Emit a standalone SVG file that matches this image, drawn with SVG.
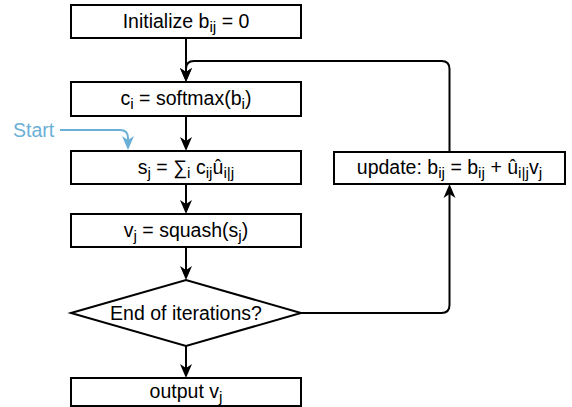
<svg xmlns="http://www.w3.org/2000/svg" width="572" height="407" viewBox="0 0 572 407">
  <defs>
    <style>
      .box { fill: #ffffff; stroke: #000000; stroke-width: 2; }
      .edge { fill: none; stroke: #000000; stroke-width: 2; }
      .start-edge { fill: none; stroke: #6aafd6; stroke-width: 2; }
      .label { font-family: "Liberation Sans", Arial, Helvetica, sans-serif; font-size: 19.5px; fill: #000000; text-anchor: middle; }
      .sub { font-size: 15.5px; }
      .start { font-family: "Liberation Sans", Arial, Helvetica, sans-serif; font-size: 19.5px; fill: #6aafd6; }
    </style>
    <marker id="arrow" viewBox="-15 -7 16 14" refX="-10" refY="0" markerWidth="16" markerHeight="14" markerUnits="userSpaceOnUse" orient="auto">
      <path d="M0,0 L-14,-6 L-10,0 L-14,6 Z" fill="#000000"/>
    </marker>
    <marker id="arrow-blue" viewBox="-15 -7 16 14" refX="-10" refY="0" markerWidth="16" markerHeight="14" markerUnits="userSpaceOnUse" orient="auto">
      <path d="M0,0 L-14,-6 L-10,0 L-14,6 Z" fill="#6aafd6"/>
    </marker>
  </defs>

  <g id="connectors">
    <path class="edge" d="M186,38 V72" marker-end="url(#arrow)"/>
    <path class="edge" d="M449.5,152 V69 Q449.5,61 441.5,61 H194 Q186,61 186,69 V72" marker-end="url(#arrow)"/>
    <path class="edge" d="M186,116 V141" marker-end="url(#arrow)"/>
    <path class="edge" d="M186,184 V204" marker-end="url(#arrow)"/>
    <path class="edge" d="M186,247 V270" marker-end="url(#arrow)"/>
    <path class="edge" d="M186,346 V368" marker-end="url(#arrow)"/>
    <path class="edge" d="M301,313 H441.5 Q449.5,313 449.5,305 V194" marker-end="url(#arrow)"/>
    <path class="start-edge" d="M60,130 H120 Q128,130 128,138 V140" marker-end="url(#arrow-blue)"/>
  </g>

  <g id="init">
    <rect class="box" x="71" y="5" width="230" height="33"/>
    <text class="label" x="186" y="28">Initialize b<tspan class="sub" dy="4">ij</tspan><tspan dy="-4"> = 0</tspan></text>
  </g>

  <g id="softmax">
    <rect class="box" x="71" y="82" width="230" height="34"/>
    <text class="label" x="186" y="105">c<tspan class="sub" dy="4">i</tspan><tspan dy="-4"> = softmax(b</tspan><tspan class="sub" dy="4">i</tspan><tspan dy="-4">)</tspan></text>
  </g>

  <g id="weighted-sum">
    <rect class="box" x="71" y="151" width="230" height="33"/>
    <text class="label" x="186" y="174">s<tspan class="sub" dy="4">j</tspan><tspan dy="-4"> = ∑</tspan><tspan class="sub" dy="4">i</tspan><tspan dy="-4"> c</tspan><tspan class="sub" dy="4">ij</tspan><tspan dy="-4">û</tspan><tspan class="sub" dy="4">i|j</tspan></text>
  </g>

  <g id="squash">
    <rect class="box" x="71" y="214" width="230" height="33"/>
    <text class="label" x="186" y="237">v<tspan class="sub" dy="4">j</tspan><tspan dy="-4"> = squash(s</tspan><tspan class="sub" dy="4">j</tspan><tspan dy="-4">)</tspan></text>
  </g>

  <g id="decision">
    <polygon class="box" points="71,313 186,280 301,313 186,346"/>
    <text class="label" x="186" y="320">End of iterations?</text>
  </g>

  <g id="output">
    <rect class="box" x="71" y="378" width="230" height="28"/>
    <text class="label" x="186" y="398">output v<tspan class="sub" dy="4">j</tspan></text>
  </g>

  <g id="update">
    <rect class="box" x="334" y="152" width="231" height="32"/>
    <text class="label" x="449.5" y="174">update: b<tspan class="sub" dy="4">ij</tspan><tspan dy="-4"> = b</tspan><tspan class="sub" dy="4">ij</tspan><tspan dy="-4"> + û</tspan><tspan class="sub" dy="4">i|j</tspan><tspan dy="-4">v</tspan><tspan class="sub" dy="4">j</tspan></text>
  </g>

  <g id="start">
    <text class="start" x="13" y="137">Start</text>
  </g>
</svg>
